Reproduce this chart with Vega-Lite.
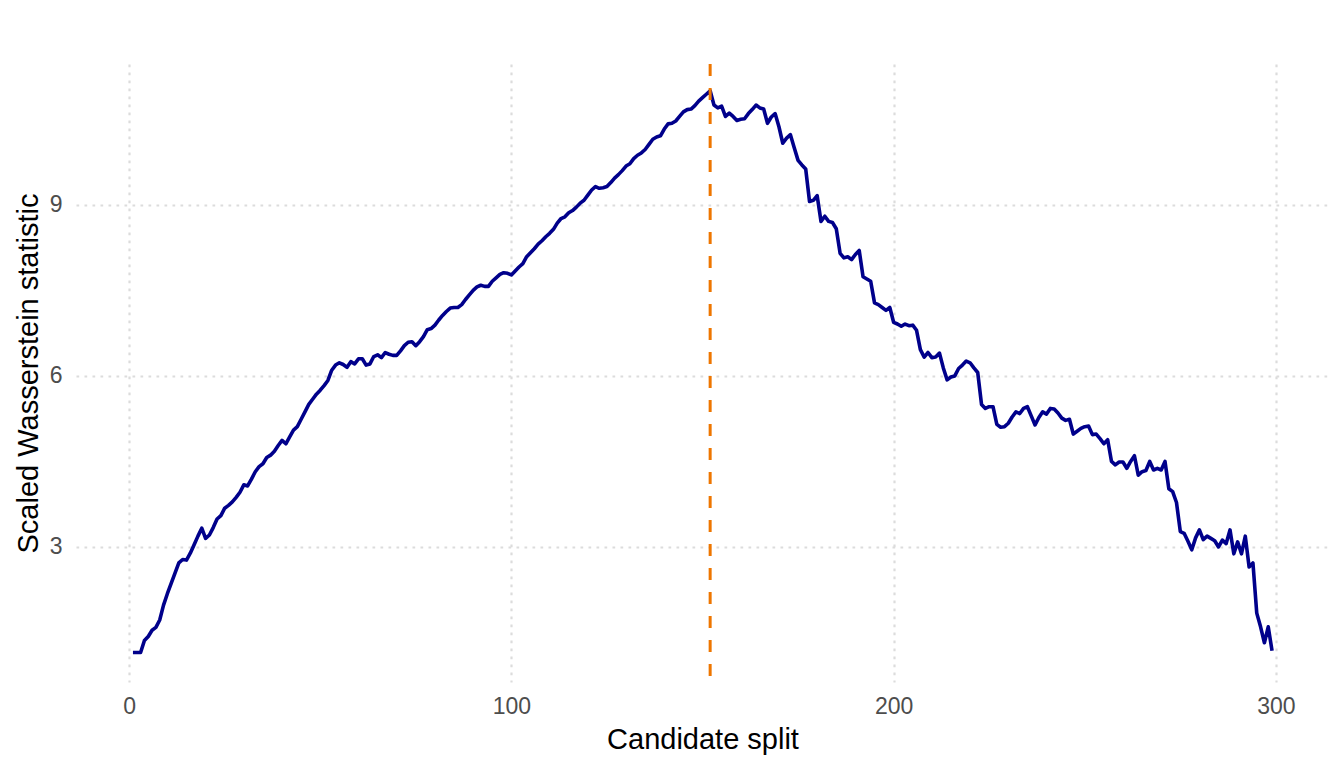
{
"$schema": "https://vega.github.io/schema/vega-lite/v6.json",
"width": 1253, "height": 618,
"autosize": {"type": "none"},
"padding": {"left": 76, "top": 64, "right": 15, "bottom": 86},
"background": "white",
"config": {"view": {"stroke": null}, "font": "Liberation Sans"},
"layer": [
{
"data": {"values": [
{"split":1,"W":1.15},{"split":2,"W":1.15},{"split":3,"W":1.15},{"split":4,"W":1.36},{"split":5,"W":1.43},{"split":6,"W":1.54},{"split":7,"W":1.59},{"split":8,"W":1.72},{"split":9,"W":1.98},{"split":10,"W":2.18},
{"split":11,"W":2.36},{"split":12,"W":2.54},{"split":13,"W":2.72},{"split":14,"W":2.78},{"split":15,"W":2.77},{"split":16,"W":2.89},{"split":17,"W":3.04},{"split":18,"W":3.19},{"split":19,"W":3.33},{"split":20,"W":3.15},
{"split":21,"W":3.21},{"split":22,"W":3.34},{"split":23,"W":3.49},{"split":24,"W":3.55},{"split":25,"W":3.68},{"split":26,"W":3.73},{"split":27,"W":3.79},{"split":28,"W":3.87},{"split":29,"W":3.96},{"split":30,"W":4.09},
{"split":31,"W":4.07},{"split":32,"W":4.19},{"split":33,"W":4.32},{"split":34,"W":4.41},{"split":35,"W":4.46},{"split":36,"W":4.57},{"split":37,"W":4.61},{"split":38,"W":4.68},{"split":39,"W":4.78},{"split":40,"W":4.87},
{"split":41,"W":4.81},{"split":42,"W":4.93},{"split":43,"W":5.05},{"split":44,"W":5.11},{"split":45,"W":5.24},{"split":46,"W":5.37},{"split":47,"W":5.50},{"split":48,"W":5.59},{"split":49,"W":5.68},{"split":50,"W":5.75},
{"split":51,"W":5.83},{"split":52,"W":5.92},{"split":53,"W":6.10},{"split":54,"W":6.19},{"split":55,"W":6.23},{"split":56,"W":6.20},{"split":57,"W":6.15},{"split":58,"W":6.25},{"split":59,"W":6.21},{"split":60,"W":6.30},
{"split":61,"W":6.30},{"split":62,"W":6.19},{"split":63,"W":6.21},{"split":64,"W":6.34},{"split":65,"W":6.37},{"split":66,"W":6.32},{"split":67,"W":6.41},{"split":68,"W":6.38},{"split":69,"W":6.36},{"split":70,"W":6.36},
{"split":71,"W":6.44},{"split":72,"W":6.53},{"split":73,"W":6.59},{"split":74,"W":6.60},{"split":75,"W":6.53},{"split":76,"W":6.60},{"split":77,"W":6.69},{"split":78,"W":6.81},{"split":79,"W":6.83},{"split":80,"W":6.89},
{"split":81,"W":6.98},{"split":82,"W":7.06},{"split":83,"W":7.13},{"split":84,"W":7.19},{"split":85,"W":7.20},{"split":86,"W":7.20},{"split":87,"W":7.25},{"split":88,"W":7.34},{"split":89,"W":7.42},{"split":90,"W":7.50},
{"split":91,"W":7.56},{"split":92,"W":7.59},{"split":93,"W":7.57},{"split":94,"W":7.57},{"split":95,"W":7.66},{"split":96,"W":7.72},{"split":97,"W":7.78},{"split":98,"W":7.81},{"split":99,"W":7.80},{"split":100,"W":7.77},
{"split":101,"W":7.84},{"split":102,"W":7.91},{"split":103,"W":7.97},{"split":104,"W":8.09},{"split":105,"W":8.16},{"split":106,"W":8.23},{"split":107,"W":8.31},{"split":108,"W":8.37},{"split":109,"W":8.44},{"split":110,"W":8.50},
{"split":111,"W":8.57},{"split":112,"W":8.68},{"split":113,"W":8.76},{"split":114,"W":8.79},{"split":115,"W":8.86},{"split":116,"W":8.90},{"split":117,"W":8.96},{"split":118,"W":9.03},{"split":119,"W":9.08},{"split":120,"W":9.17},
{"split":121,"W":9.26},{"split":122,"W":9.32},{"split":123,"W":9.29},{"split":124,"W":9.30},{"split":125,"W":9.32},{"split":126,"W":9.39},{"split":127,"W":9.47},{"split":128,"W":9.53},{"split":129,"W":9.60},{"split":130,"W":9.68},
{"split":131,"W":9.72},{"split":132,"W":9.81},{"split":133,"W":9.87},{"split":134,"W":9.91},{"split":135,"W":9.97},{"split":136,"W":10.06},{"split":137,"W":10.15},{"split":138,"W":10.19},{"split":139,"W":10.21},{"split":140,"W":10.33},
{"split":141,"W":10.42},{"split":142,"W":10.43},{"split":143,"W":10.47},{"split":144,"W":10.55},{"split":145,"W":10.63},{"split":146,"W":10.67},{"split":147,"W":10.68},{"split":148,"W":10.74},{"split":149,"W":10.82},{"split":150,"W":10.88},
{"split":151,"W":10.94},{"split":152,"W":11.00},{"split":153,"W":10.75},{"split":154,"W":10.70},{"split":155,"W":10.73},{"split":156,"W":10.55},{"split":157,"W":10.61},{"split":158,"W":10.55},{"split":159,"W":10.48},{"split":160,"W":10.50},
{"split":161,"W":10.51},{"split":162,"W":10.60},{"split":163,"W":10.67},{"split":164,"W":10.75},{"split":165,"W":10.70},{"split":166,"W":10.68},{"split":167,"W":10.43},{"split":168,"W":10.54},{"split":169,"W":10.60},{"split":170,"W":10.37},
{"split":171,"W":10.08},{"split":172,"W":10.17},{"split":173,"W":10.23},{"split":174,"W":10.00},{"split":175,"W":9.78},{"split":176,"W":9.70},{"split":177,"W":9.63},{"split":178,"W":9.06},{"split":179,"W":9.08},{"split":180,"W":9.16},
{"split":181,"W":8.71},{"split":182,"W":8.80},{"split":183,"W":8.71},{"split":184,"W":8.69},{"split":185,"W":8.58},{"split":186,"W":8.15},{"split":187,"W":8.07},{"split":188,"W":8.09},{"split":189,"W":8.04},{"split":190,"W":8.13},
{"split":191,"W":8.20},{"split":192,"W":7.74},{"split":193,"W":7.70},{"split":194,"W":7.66},{"split":195,"W":7.28},{"split":196,"W":7.25},{"split":197,"W":7.20},{"split":198,"W":7.15},{"split":199,"W":7.20},{"split":200,"W":6.94},
{"split":201,"W":6.91},{"split":202,"W":6.87},{"split":203,"W":6.91},{"split":204,"W":6.88},{"split":205,"W":6.89},{"split":206,"W":6.80},{"split":207,"W":6.46},{"split":208,"W":6.33},{"split":209,"W":6.41},{"split":210,"W":6.32},
{"split":211,"W":6.33},{"split":212,"W":6.40},{"split":213,"W":6.14},{"split":214,"W":5.93},{"split":215,"W":5.98},{"split":216,"W":6.00},{"split":217,"W":6.13},{"split":218,"W":6.19},{"split":219,"W":6.26},{"split":220,"W":6.23},
{"split":221,"W":6.14},{"split":222,"W":6.06},{"split":223,"W":5.50},{"split":224,"W":5.43},{"split":225,"W":5.46},{"split":226,"W":5.46},{"split":227,"W":5.15},{"split":228,"W":5.10},{"split":229,"W":5.11},{"split":230,"W":5.17},
{"split":231,"W":5.28},{"split":232,"W":5.37},{"split":233,"W":5.34},{"split":234,"W":5.43},{"split":235,"W":5.46},{"split":236,"W":5.30},{"split":237,"W":5.14},{"split":238,"W":5.27},{"split":239,"W":5.37},{"split":240,"W":5.33},
{"split":241,"W":5.43},{"split":242,"W":5.42},{"split":243,"W":5.35},{"split":244,"W":5.26},{"split":245,"W":5.22},{"split":246,"W":5.24},{"split":247,"W":4.98},{"split":248,"W":5.03},{"split":249,"W":5.08},{"split":250,"W":5.11},
{"split":251,"W":5.12},{"split":252,"W":4.97},{"split":253,"W":4.98},{"split":254,"W":4.90},{"split":255,"W":4.81},{"split":256,"W":4.88},{"split":257,"W":4.50},{"split":258,"W":4.44},{"split":259,"W":4.49},{"split":260,"W":4.49},
{"split":261,"W":4.38},{"split":262,"W":4.50},{"split":263,"W":4.60},{"split":264,"W":4.26},{"split":265,"W":4.32},{"split":266,"W":4.34},{"split":267,"W":4.50},{"split":268,"W":4.35},{"split":269,"W":4.38},{"split":270,"W":4.35},
{"split":271,"W":4.50},{"split":272,"W":4.02},{"split":273,"W":3.97},{"split":274,"W":3.78},{"split":275,"W":3.27},{"split":276,"W":3.24},{"split":277,"W":3.10},{"split":278,"W":2.95},{"split":279,"W":3.16},{"split":280,"W":3.30},
{"split":281,"W":3.13},{"split":282,"W":3.19},{"split":283,"W":3.15},{"split":284,"W":3.11},{"split":285,"W":3.00},{"split":286,"W":3.12},{"split":287,"W":3.06},{"split":288,"W":3.30},{"split":289,"W":2.88},{"split":290,"W":3.09},
{"split":291,"W":2.88},{"split":292,"W":3.19},{"split":293,"W":2.65},{"split":294,"W":2.72},{"split":295,"W":1.84},{"split":296,"W":1.60},{"split":297,"W":1.32},{"split":298,"W":1.60},{"split":299,"W":1.18}
]},
"mark": {"type": "line", "color": "#00008B", "strokeWidth": 3.6, "strokeJoin": "round"},
"encoding": {
"x": {"field": "split", "type": "quantitative",
 "scale": {"domain": [-13.9, 313.9], "nice": false, "zero": false},
 "axis": {"values": [0, 100, 200, 300], "grid": true, "gridColor": "#DCDCDC", "gridDash": [2.7, 5.3], "gridWidth": 2.2,
  "domain": false, "ticks": false, "tickSize": 0, "labelFontSize": 23, "labelColor": "#4D4D4D", "labelPadding": 13,
  "labelFont": "Liberation Sans", "labelFlush": false,
  "title": "Candidate split", "titleFontSize": 29, "titleFontWeight": "normal", "titleColor": "#000000", "titleFont": "Liberation Sans",
  "titleY": 66, "titleBaseline": "alphabetic"}},
"y": {"field": "W", "type": "quantitative",
 "scale": {"domain": [0.632, 11.47], "nice": false, "zero": false},
 "axis": {"values": [3, 6, 9], "grid": true, "gridColor": "#DCDCDC", "gridDash": [2.7, 5.3], "gridWidth": 2.2,
  "domain": false, "ticks": false, "tickSize": 0, "labelFontSize": 23, "labelColor": "#4D4D4D", "labelPadding": 14,
  "labelFont": "Liberation Sans",
  "title": "Scaled Wasserstein statistic", "titleFontSize": 29, "titleFontWeight": "normal", "titleColor": "#000000", "titleFont": "Liberation Sans",
  "titleX": -39, "titleBaseline": "alphabetic"}}
}
},
{
"data": {"values": [{"split": 152}]},
"mark": {"type": "rule", "color": "#EE7600", "strokeWidth": 3, "strokeDash": [12, 12]},
"encoding": {"x": {"field": "split", "type": "quantitative"}}
}
]
}
